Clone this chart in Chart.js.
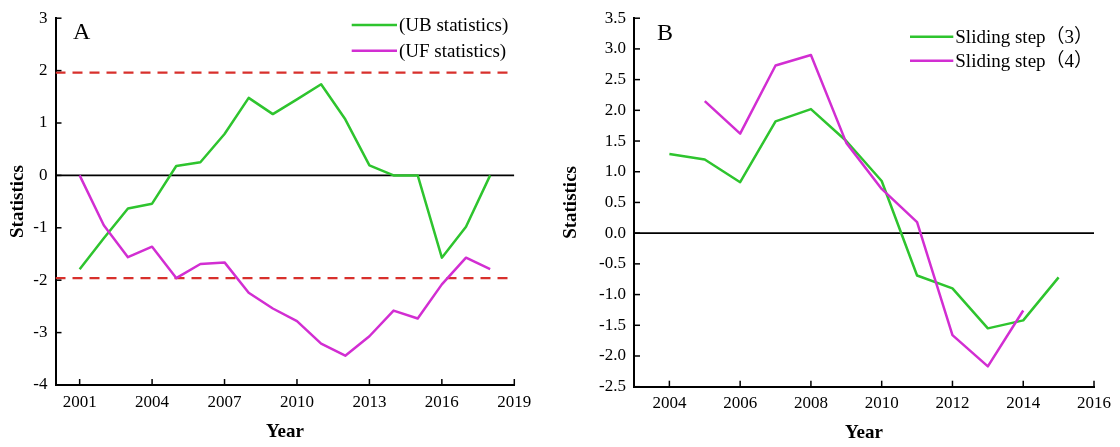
<!DOCTYPE html>
<html>
<head>
<meta charset="utf-8">
<script src="https://cdn.jsdelivr.net/npm/chart.js@4.4.0/dist/chart.umd.min.js"></script>
<style>
  html, body { margin: 0; padding: 0; background: #fff; }
  #wrap { position: relative; width: 1120px; height: 447px; overflow: hidden; background: #fff; }
  .panel { position: absolute; top: 0; width: 560px; height: 447px; }
  canvas { display: block; }
</style>
</head>
<body>
<div id="wrap">
  <div class="panel" style="left:0"><canvas id="chartA" width="560" height="447"></canvas></div>
  <div class="panel" style="left:560px"><canvas id="chartB" width="560" height="447"></canvas></div>
</div>
<script>
// ---- Panel A: Mann-Kendall statistics ----
const yearsA   = [2001, 2002, 2003, 2004, 2005, 2006, 2007, 2008, 2009, 2010, 2011, 2012, 2013, 2014, 2015, 2016, 2017, 2018];
const ubValues = [-1.79, -1.2, -0.63, -0.54, 0.18, 0.25, 0.79, 1.48, 1.17, 1.45, 1.74, 1.07, 0.19, 0.0, 0.0, -1.57, -0.98, 0.0];
const ufValues = [0.0, -0.95, -1.56, -1.36, -1.96, -1.69, -1.66, -2.24, -2.54, -2.78, -3.21, -3.44, -3.07, -2.58, -2.73, -2.08, -1.57, -1.79];
const criticalLevel = 1.96;
const xRangeA  = [2000, 2019];
const criticalEndA = 2018.9;
const xTicksA  = [2001, 2004, 2007, 2010, 2013, 2016, 2019];
const yTicksA  = [-4, -3, -2, -1, 0, 1, 2, 3];

// ---- Panel B: sliding t-test statistics ----
const yearsStep3  = [2004, 2005, 2006, 2007, 2008, 2009, 2010, 2011, 2012, 2013, 2014, 2015];
const step3Values = [1.29, 1.2, 0.83, 1.82, 2.02, 1.5, 0.85, -0.69, -0.9, -1.55, -1.42, -0.72];
const yearsStep4  = [2005, 2006, 2007, 2008, 2009, 2010, 2011, 2012, 2013, 2014];
const step4Values = [2.15, 1.62, 2.73, 2.9, 1.47, 0.72, 0.18, -1.66, -2.17, -1.26];
const xRangeB  = [2003, 2016];
const xTicksB  = [2004, 2006, 2008, 2010, 2012, 2014, 2016];
const yTicksB  = [-2.5, -2.0, -1.5, -1.0, -0.5, 0.0, 0.5, 1.0, 1.5, 2.0, 2.5, 3.0, 3.5];

const SERIF = "'Liberation Serif', 'Times New Roman', 'Noto Sans CJK SC', serif";
const GREEN = '#2ec42e';
const MAGENTA = '#d22ed2';
const RED = '#d8302c';

const toPoints = (xs, ys) => xs.map((x, i) => ({ x: x, y: ys[i] }));

// Inward-pointing tick marks on both axes
const inwardTicks = {
  id: 'inwardTicks',
  afterDraw(chart) {
    const { ctx, chartArea: a, scales: { x, y } } = chart;
    ctx.save();
    ctx.strokeStyle = '#000';
    ctx.lineWidth = 1.5;
    x.ticks.forEach(t => {
      const px = x.getPixelForValue(t.value);
      ctx.beginPath(); ctx.moveTo(px, a.bottom); ctx.lineTo(px, a.bottom - 6); ctx.stroke();
    });
    y.ticks.forEach(t => {
      const py = y.getPixelForValue(t.value);
      ctx.beginPath(); ctx.moveTo(a.left, py); ctx.lineTo(a.left + 6, py); ctx.stroke();
    });
    ctx.restore();
  }
};

// Panel letter and line key drawn inside the plot
const keyAndTag = {
  id: 'keyAndTag',
  afterDraw(chart, args, opts) {
    const ctx = chart.ctx;
    ctx.save();
    ctx.fillStyle = '#000';
    ctx.font = '24px ' + SERIF;
    ctx.textBaseline = 'alphabetic';
    ctx.textAlign = 'left';
    ctx.fillText(opts.tag, opts.tagX, opts.tagY);
    ctx.font = '19px ' + SERIF;
    ctx.textBaseline = 'middle';
    opts.items.forEach((idx, row) => {
      const ds = chart.data.datasets[idx];
      const y = opts.y + row * opts.rowGap;
      ctx.strokeStyle = ds.borderColor;
      ctx.lineWidth = 2.5;
      ctx.beginPath(); ctx.moveTo(opts.x, y); ctx.lineTo(opts.x + opts.len, y); ctx.stroke();
      ctx.fillText(ds.label, opts.x + opts.len + 2, y + 1);
    });
    ctx.restore();
  }
};

function buildOptions(cfg) {
  return {
    responsive: false,
    animation: false,
    devicePixelRatio: 1,
    layout: { padding: { left: 0, top: cfg.top, right: cfg.right, bottom: 0 } },
    elements: { point: { radius: 0, hoverRadius: 0 }, line: { tension: 0, borderJoinStyle: 'round' } },
    plugins: {
      legend: { display: false },
      tooltip: { enabled: false },
      keyAndTag: cfg.key
    },
    scales: {
      x: {
        type: 'linear',
        min: cfg.xRange[0],
        max: cfg.xRange[1],
        afterBuildTicks: s => { s.ticks = cfg.xTicks.map(v => ({ value: v })); },
        afterFit: s => { s.height = cfg.xHeight; },
        grid: { display: true, drawOnChartArea: false, drawTicks: false },
        border: { display: true, color: '#000', width: 2 },
        ticks: {
          color: '#000', padding: 7, autoSkip: false, maxRotation: 0,
          font: { family: SERIF, size: 17 },
          callback: v => String(v)
        },
        title: {
          display: true, text: 'Year', color: '#000',
          font: { family: SERIF, size: 19, weight: 'bold' },
          padding: { top: 0, bottom: cfg.xTitlePad }
        }
      },
      y: {
        type: 'linear',
        min: cfg.yTicks[0],
        max: cfg.yTicks[cfg.yTicks.length - 1],
        afterBuildTicks: s => { s.ticks = cfg.yTicks.map(v => ({ value: v })); },
        afterFit: s => { s.width = cfg.yWidth; },
        grid: { display: true, drawOnChartArea: false, drawTicks: false },
        border: { display: true, color: '#000', width: 2 },
        ticks: {
          color: '#000', padding: 8, autoSkip: false,
          font: { family: SERIF, size: 17 },
          callback: cfg.yFormat
        },
        title: {
          display: true, text: 'Statistics', color: '#000',
          font: { family: SERIF, size: 19, weight: 'bold' },
          padding: { top: cfg.yTitlePad, bottom: 0 }
        }
      }
    }
  };
}

const lineSet = (label, data, color, order) => ({
  label, data, borderColor: color, backgroundColor: color,
  borderWidth: 2.5, fill: false, pointRadius: 0, order
});

// ---- Chart A ----
new Chart(document.getElementById('chartA'), {
  type: 'line',
  data: {
    datasets: [
      lineSet('(UB statistics)', toPoints(yearsA, ubValues), GREEN, 1),
      lineSet('(UF statistics)', toPoints(yearsA, ufValues), MAGENTA, 0),
      { label: 'zero', data: [{ x: xRangeA[0], y: 0 }, { x: xRangeA[1], y: 0 }],
        borderColor: '#000', borderWidth: 1.6, pointRadius: 0, order: 5 },
      { label: 'upper', data: [{ x: xRangeA[0], y: criticalLevel }, { x: criticalEndA, y: criticalLevel }],
        borderColor: RED, borderWidth: 2.2, borderDash: [10, 7], pointRadius: 0, order: 4 },
      { label: 'lower', data: [{ x: xRangeA[0], y: -criticalLevel }, { x: criticalEndA, y: -criticalLevel }],
        borderColor: RED, borderWidth: 2.2, borderDash: [10, 7], pointRadius: 0, order: 4 }
    ]
  },
  options: buildOptions({
    top: 15.7, right: 560 - 514.3, xHeight: 447 - 385, yWidth: 55.5,
    xRange: xRangeA, xTicks: xTicksA, yTicks: yTicksA,
    yFormat: v => String(v), xTitlePad: 4, yTitlePad: 6.6,
    key: { tag: 'A', tagX: 73, tagY: 39, x: 351.7, len: 45.3, y: 25, rowGap: 25.7, items: [0, 1] }
  }),
  plugins: [inwardTicks, keyAndTag]
});

// ---- Chart B ----
new Chart(document.getElementById('chartB'), {
  type: 'line',
  data: {
    datasets: [
      lineSet('Sliding step（3）', toPoints(yearsStep3, step3Values), GREEN, 1),
      lineSet('Sliding step（4）', toPoints(yearsStep4, step4Values), MAGENTA, 0),
      { label: 'zero', data: [{ x: xRangeB[0], y: 0 }, { x: xRangeB[1], y: 0 }],
        borderColor: '#000', borderWidth: 1.6, pointRadius: 0, order: 5 }
    ]
  },
  options: buildOptions({
    top: 16.7, right: 560 - 534, xHeight: 447 - 386.7, yWidth: 74,
    xRange: xRangeB, xTicks: xTicksB, yTicks: yTicksB,
    yFormat: v => v.toFixed(1), xTitlePad: 2.5, yTitlePad: 0,
    key: { tag: 'B', tagX: 97, tagY: 40, x: 350, len: 43.3, y: 36.7, rowGap: 24, items: [0, 1] }
  }),
  plugins: [inwardTicks, keyAndTag]
});
</script>
</body>
</html>
